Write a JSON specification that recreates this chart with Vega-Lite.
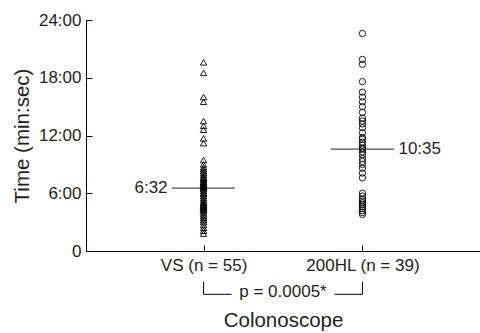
{
  "$schema": "https://vega.github.io/schema/vega-lite/v6.json",
  "width": 394,
  "height": 231,
  "autosize": {"type": "none"},
  "padding": {"left": 86, "top": 20, "right": 0, "bottom": 82},
  "config": {
    "view": {"stroke": null},
    "font": "Liberation Sans",
    "axis": {
      "domainColor": "#000000",
      "tickColor": "#000000",
      "labelColor": "#231f20",
      "titleColor": "#231f20",
      "labelFont": "Liberation Sans",
      "titleFont": "Liberation Sans",
      "labelFontSize": 17,
      "titleFontSize": 20.5,
      "titleFontWeight": "normal",
      "grid": false,
      "domainWidth": 1,
      "tickWidth": 1
    }
  },
  "datasets": {
    "times": [
      {"scope": "VS (n = 55)", "time": 19.6},
      {"scope": "VS (n = 55)", "time": 18.5},
      {"scope": "VS (n = 55)", "time": 16.0},
      {"scope": "VS (n = 55)", "time": 15.5},
      {"scope": "VS (n = 55)", "time": 13.5},
      {"scope": "VS (n = 55)", "time": 13.0},
      {"scope": "VS (n = 55)", "time": 12.6},
      {"scope": "VS (n = 55)", "time": 11.7},
      {"scope": "VS (n = 55)", "time": 11.2},
      {"scope": "VS (n = 55)", "time": 9.45},
      {"scope": "VS (n = 55)", "time": 9.0},
      {"scope": "VS (n = 55)", "time": 8.7},
      {"scope": "VS (n = 55)", "time": 8.5},
      {"scope": "VS (n = 55)", "time": 8.3},
      {"scope": "VS (n = 55)", "time": 8.1},
      {"scope": "VS (n = 55)", "time": 7.9},
      {"scope": "VS (n = 55)", "time": 7.7},
      {"scope": "VS (n = 55)", "time": 7.6},
      {"scope": "VS (n = 55)", "time": 7.5},
      {"scope": "VS (n = 55)", "time": 7.35},
      {"scope": "VS (n = 55)", "time": 7.2},
      {"scope": "VS (n = 55)", "time": 7.1},
      {"scope": "VS (n = 55)", "time": 7.0},
      {"scope": "VS (n = 55)", "time": 6.9},
      {"scope": "VS (n = 55)", "time": 6.8},
      {"scope": "VS (n = 55)", "time": 6.7},
      {"scope": "VS (n = 55)", "time": 6.6},
      {"scope": "VS (n = 55)", "time": 6.533},
      {"scope": "VS (n = 55)", "time": 6.4},
      {"scope": "VS (n = 55)", "time": 6.2},
      {"scope": "VS (n = 55)", "time": 6.0},
      {"scope": "VS (n = 55)", "time": 5.9},
      {"scope": "VS (n = 55)", "time": 5.7},
      {"scope": "VS (n = 55)", "time": 5.5},
      {"scope": "VS (n = 55)", "time": 5.3},
      {"scope": "VS (n = 55)", "time": 5.1},
      {"scope": "VS (n = 55)", "time": 5.0},
      {"scope": "VS (n = 55)", "time": 4.9},
      {"scope": "VS (n = 55)", "time": 4.8},
      {"scope": "VS (n = 55)", "time": 4.7},
      {"scope": "VS (n = 55)", "time": 4.6},
      {"scope": "VS (n = 55)", "time": 4.5},
      {"scope": "VS (n = 55)", "time": 4.4},
      {"scope": "VS (n = 55)", "time": 4.3},
      {"scope": "VS (n = 55)", "time": 4.2},
      {"scope": "VS (n = 55)", "time": 4.0},
      {"scope": "VS (n = 55)", "time": 3.8},
      {"scope": "VS (n = 55)", "time": 3.6},
      {"scope": "VS (n = 55)", "time": 3.4},
      {"scope": "VS (n = 55)", "time": 3.2},
      {"scope": "VS (n = 55)", "time": 3.0},
      {"scope": "VS (n = 55)", "time": 2.7},
      {"scope": "VS (n = 55)", "time": 2.4},
      {"scope": "VS (n = 55)", "time": 2.1},
      {"scope": "VS (n = 55)", "time": 1.8},
      {"scope": "200HL (n = 39)", "time": 22.6},
      {"scope": "200HL (n = 39)", "time": 19.9},
      {"scope": "200HL (n = 39)", "time": 19.4},
      {"scope": "200HL (n = 39)", "time": 17.6},
      {"scope": "200HL (n = 39)", "time": 16.5},
      {"scope": "200HL (n = 39)", "time": 16.0},
      {"scope": "200HL (n = 39)", "time": 15.5},
      {"scope": "200HL (n = 39)", "time": 15.0},
      {"scope": "200HL (n = 39)", "time": 14.4},
      {"scope": "200HL (n = 39)", "time": 13.8},
      {"scope": "200HL (n = 39)", "time": 13.5},
      {"scope": "200HL (n = 39)", "time": 13.2},
      {"scope": "200HL (n = 39)", "time": 12.8},
      {"scope": "200HL (n = 39)", "time": 12.3},
      {"scope": "200HL (n = 39)", "time": 11.8},
      {"scope": "200HL (n = 39)", "time": 11.6},
      {"scope": "200HL (n = 39)", "time": 11.3},
      {"scope": "200HL (n = 39)", "time": 11.0},
      {"scope": "200HL (n = 39)", "time": 10.7},
      {"scope": "200HL (n = 39)", "time": 10.583},
      {"scope": "200HL (n = 39)", "time": 10.3},
      {"scope": "200HL (n = 39)", "time": 10.0},
      {"scope": "200HL (n = 39)", "time": 9.6},
      {"scope": "200HL (n = 39)", "time": 9.3},
      {"scope": "200HL (n = 39)", "time": 9.0},
      {"scope": "200HL (n = 39)", "time": 8.6},
      {"scope": "200HL (n = 39)", "time": 8.1},
      {"scope": "200HL (n = 39)", "time": 7.6},
      {"scope": "200HL (n = 39)", "time": 6.0},
      {"scope": "200HL (n = 39)", "time": 5.7},
      {"scope": "200HL (n = 39)", "time": 5.4},
      {"scope": "200HL (n = 39)", "time": 5.2},
      {"scope": "200HL (n = 39)", "time": 5.0},
      {"scope": "200HL (n = 39)", "time": 4.8},
      {"scope": "200HL (n = 39)", "time": 4.6},
      {"scope": "200HL (n = 39)", "time": 4.4},
      {"scope": "200HL (n = 39)", "time": 4.2},
      {"scope": "200HL (n = 39)", "time": 4.0},
      {"scope": "200HL (n = 39)", "time": 3.8}
    ],
    "medians": [
      {"scope": "VS (n = 55)", "median": 6.533, "label": "6:32"},
      {"scope": "200HL (n = 39)", "median": 10.583, "label": "10:35"}
    ],
    "test": [
      {"p": "p = 0.0005*"}
    ]
  },
  "layer": [
    {
      "encoding": {
        "x": {
          "field": "scope",
          "type": "nominal",
          "sort": null,
          "scale": {"type": "point", "domain": ["VS (n = 55)", "200HL (n = 39)"], "padding": 0.74},
          "axis": {
            "title": "Colonoscope",
            "labelAngle": 0,
            "tickSize": -6,
            "labelPadding": 12,
            "titlePadding": 37
          }
        },
        "y": {
          "type": "quantitative",
          "scale": {"domain": [0, 24], "nice": false, "zero": false},
          "axis": {
            "title": "Time (min:sec)",
            "values": [0, 6, 12, 18, 24],
            "labelExpr": "datum.value == 0 ? '0' : datum.value + ':00'",
            "tickSize": -6,
            "labelPadding": 11,
            "titlePadding": 6
          }
        }
      },
      "layer": [
        {
          "data": {"name": "times"},
          "mark": {"type": "point", "filled": false, "strokeWidth": 0.9, "size": 40, "opacity": 1},
          "encoding": {
            "y": {"field": "time", "type": "quantitative"},
            "shape": {
              "field": "scope",
              "type": "nominal",
              "scale": {"domain": ["VS (n = 55)", "200HL (n = 39)"], "range": ["triangle-up", "circle"]},
              "legend": null
            },
            "color": {"value": "#000000"}
          }
        },
        {
          "data": {"name": "medians"},
          "mark": {"type": "tick", "orient": "horizontal", "size": 63, "thickness": 1.2, "color": "#000000"},
          "encoding": {
            "y": {"field": "median", "type": "quantitative"}
          }
        },
        {
          "data": {"name": "medians"},
          "transform": [{"filter": "datum.scope == 'VS (n = 55)'"}],
          "mark": {"type": "text", "align": "right", "baseline": "middle", "dx": -36, "fontSize": 17, "color": "#231f20"},
          "encoding": {
            "y": {"field": "median", "type": "quantitative"},
            "text": {"field": "label"}
          }
        },
        {
          "data": {"name": "medians"},
          "transform": [{"filter": "datum.scope != 'VS (n = 55)'"}],
          "mark": {"type": "text", "align": "left", "baseline": "middle", "dx": 36, "fontSize": 17, "color": "#231f20"},
          "encoding": {
            "y": {"field": "median", "type": "quantitative"},
            "text": {"field": "label"}
          }
        }
      ]
    },
    {
      "data": {"name": "test"},
      "layer": [
        {
          "mark": {"type": "rule", "color": "#000000", "strokeWidth": 1},
          "encoding": {
            "x": {"datum": 0, "type": "quantitative", "scale": {"domain": [-0.74, 1.74], "nice": false, "zero": false}, "axis": null},
            "y": {"datum": -3.2, "type": "quantitative", "scale": {"domain": [0, 24], "nice": false, "zero": false}},
            "y2": {"datum": -4.5}
          }
        },
        {
          "mark": {"type": "rule", "color": "#000000", "strokeWidth": 1},
          "encoding": {
            "x": {"datum": 1, "type": "quantitative", "scale": {"domain": [-0.74, 1.74], "nice": false, "zero": false}, "axis": null},
            "y": {"datum": -3.2, "type": "quantitative", "scale": {"domain": [0, 24], "nice": false, "zero": false}},
            "y2": {"datum": -4.5}
          }
        },
        {
          "mark": {"type": "rule", "color": "#000000", "strokeWidth": 1},
          "encoding": {
            "x": {"datum": 0, "type": "quantitative", "scale": {"domain": [-0.74, 1.74], "nice": false, "zero": false}, "axis": null},
            "x2": {"datum": 0.176},
            "y": {"datum": -4.5, "type": "quantitative", "scale": {"domain": [0, 24], "nice": false, "zero": false}}
          }
        },
        {
          "mark": {"type": "rule", "color": "#000000", "strokeWidth": 1},
          "encoding": {
            "x": {"datum": 0.824, "type": "quantitative", "scale": {"domain": [-0.74, 1.74], "nice": false, "zero": false}, "axis": null},
            "x2": {"datum": 1},
            "y": {"datum": -4.5, "type": "quantitative", "scale": {"domain": [0, 24], "nice": false, "zero": false}}
          }
        },
        {
          "mark": {"type": "text", "align": "center", "baseline": "alphabetic", "dy": 2.5, "fontSize": 17, "color": "#231f20"},
          "encoding": {
            "x": {"datum": 0.5, "type": "quantitative", "scale": {"domain": [-0.74, 1.74], "nice": false, "zero": false}, "axis": null},
            "y": {"datum": -4.5, "type": "quantitative", "scale": {"domain": [0, 24], "nice": false, "zero": false}},
            "text": {"field": "p"}
          }
        }
      ]
    }
  ],
  "resolve": {"scale": {"x": "independent"}}
}
